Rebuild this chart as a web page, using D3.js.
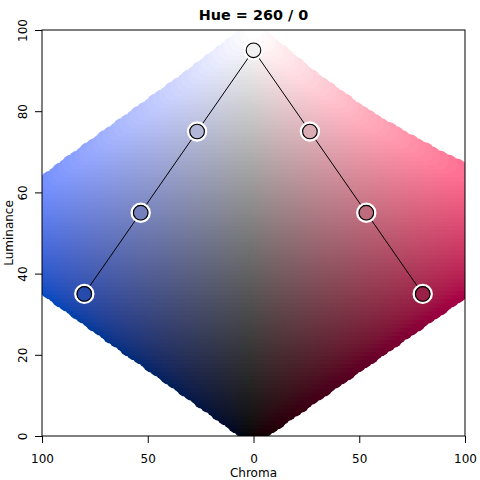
<!DOCTYPE html>
<html><head><meta charset="utf-8">
<script src="https://cdn.jsdelivr.net/npm/d3@7"></script>
<style>
body{margin:0;background:#fff}
svg{display:block}
text{font-family:"DejaVu Sans",sans-serif;fill:#000}
</style>
</head><body>
<svg id="chart" width="480" height="480"></svg>
<script>
// ---- data ----
const title = "Hue = 260 / 0";
const xLabel = "Chroma";
const yLabel = "Luminance";
const hueLeft = 260;
const hueRight = 0;
// palette (diverging, 7 colours): signed chroma (negative = left hue), luminance
const paletteChroma = [-80, -53.33, -26.67, 0, 26.67, 53.33, 80];
const paletteLum = [35, 55, 75, 95, 75, 55, 35];
const xTicks = [-100, -50, 0, 50, 100];
const yTicks = [0, 20, 40, 60, 80, 100];
const chromaGrid = d3.range(-100, 101);
const lumGrid = d3.range(0, 101);

// ---- polarLUV -> sRGB (colorspace conventions, D65) ----
const XN = 95.047, YN = 100.0, ZN = 108.883;
function gtrans(u){ return u > 0.00304 ? 1.055 * Math.pow(u, 1/2.4) - 0.055 : 12.92 * u; }
function hcl2rgb(h, c, l){
  const hr = h * Math.PI / 180;
  const U = c * Math.cos(hr), V = c * Math.sin(hr);
  let X, Y, Z;
  if (l <= 0 && U === 0 && V === 0) { X = 0; Y = 0; Z = 0; }
  else {
    Y = YN * (l > 7.999592 ? Math.pow((l + 16) / 116, 3) : l / 903.3);
    const t = XN + YN + ZN, x = XN / t, y = YN / t;
    const uN = 2 * x / (6 * y - x + 1.5), vN = 4.5 * y / (6 * y - x + 1.5);
    const uu = U / (13 * l) + uN, vv = V / (13 * l) + vN;
    X = 9.0 * Y * uu / (4 * vv);
    Z = -X / 3 - 5 * Y + 3 * Y / vv;
  }
  X /= YN; Y /= YN; Z /= YN;
  const r = gtrans( 3.240479 * X - 1.537150 * Y - 0.498535 * Z);
  const g = gtrans(-0.969256 * X + 1.875992 * Y + 0.041556 * Z);
  const b = gtrans( 0.055648 * X - 0.204043 * Y + 1.057311 * Z);
  return [r, g, b];
}
function toHex(rgb, fuzz){
  const f = fuzz === undefined ? 1e-3 : fuzz;
  if (rgb.some(v => v < -f || v > 1 + f)) return null;
  return d3.rgb(...rgb.map(v => Math.round(Math.max(0, Math.min(1, v)) * 255))).formatHex();
}

// ---- layout ----
const svg = d3.select("#chart");
const plot = {left: 42, right: 465, top: 30, bottom: 436};
const x = d3.scaleLinear().domain([-100, 100]).range([plot.left, plot.right]);
const y = d3.scaleLinear().domain([0, 100]).range([plot.bottom, plot.top]);

svg.append("clipPath").attr("id", "clip").append("rect")
  .attr("x", plot.left).attr("y", plot.top)
  .attr("width", plot.right - plot.left).attr("height", plot.bottom - plot.top);

// background grid of colours
const cells = [];
lumGrid.forEach(L => {
  chromaGrid.forEach(C => {
    if (L < 1 && C !== 0) return;
    const H = C < 0 ? hueLeft : hueRight;
    const col = toHex(hcl2rgb(H, Math.abs(C), L));
    if (col) cells.push({C, L, col});
  });
});
svg.append("g").attr("clip-path", "url(#clip)")
  .selectAll("circle").data(cells).join("circle")
  .attr("cx", d => x(d.C)).attr("cy", d => y(d.L))
  .attr("r", 9.5).attr("fill", d => d.col);

// box
svg.append("rect").attr("x", plot.left).attr("y", plot.top)
  .attr("width", plot.right - plot.left).attr("height", plot.bottom - plot.top)
  .attr("fill", "none").attr("stroke", "#000").attr("stroke-width", 1);

// axes
const gx = svg.append("g").attr("transform", `translate(0,${plot.bottom})`)
  .call(d3.axisBottom(x).tickValues(xTicks).tickSize(7).tickFormat(d => Math.abs(d)));
gx.select(".domain").remove();
gx.selectAll("text").attr("y", 27).attr("dy", 0).style("font-size", "12px").style("font-family", "DejaVu Sans");

const gy = svg.append("g").attr("transform", `translate(${plot.left},0)`)
  .call(d3.axisLeft(y).tickValues(yTicks).tickSize(7).tickFormat(d3.format("d")));
gy.select(".domain").remove();
gy.selectAll("text").attr("transform", "rotate(-90)").attr("x", 0).attr("y", -15).attr("dy", 0)
  .attr("text-anchor", "middle").style("font-size", "12px").style("font-family", "DejaVu Sans");

// labels
svg.append("text").attr("x", (plot.left + plot.right) / 2).attr("y", 19.5)
  .attr("text-anchor", "middle").style("font-size", "14.4px").style("font-weight", "bold").text(title);
svg.append("text").attr("x", (plot.left + plot.right) / 2).attr("y", 476.5)
  .attr("text-anchor", "middle").style("font-size", "12px").text(xLabel);
svg.append("text").attr("transform", `translate(12.5,${(plot.top + plot.bottom) / 2}) rotate(-90)`)
  .attr("text-anchor", "middle").style("font-size", "12px").text(yLabel);

// palette path and points
const pal = paletteChroma.map((C, i) => ({C, L: paletteLum[i],
  col: toHex(hcl2rgb(C < 0 ? hueLeft : hueRight, Math.abs(C), paletteLum[i]), 1)}));
svg.append("path").datum(pal)
  .attr("d", d3.line().x(d => x(d.C)).y(d => y(d.L)))
  .attr("fill", "none").attr("stroke", "#000").attr("stroke-width", 1);
const gp = svg.append("g");
gp.selectAll("circle.w").data(pal).join("circle").attr("class", "w")
  .attr("cx", d => x(d.C)).attr("cy", d => y(d.L)).attr("r", 9)
  .attr("fill", "none").attr("stroke", "#fff").attr("stroke-width", 2.4);
gp.selectAll("circle.p").data(pal).join("circle").attr("class", "p")
  .attr("cx", d => x(d.C)).attr("cy", d => y(d.L)).attr("r", 7.3)
  .attr("fill", d => d.col).attr("stroke", "#000").attr("stroke-width", 1.1);
</script>
</body></html>
